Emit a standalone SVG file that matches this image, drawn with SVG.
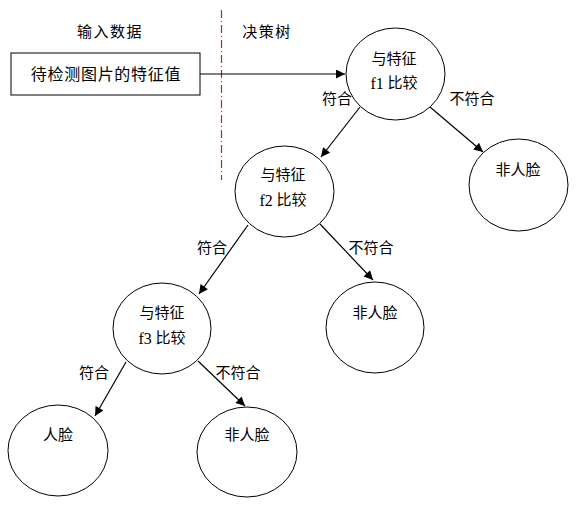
<svg xmlns="http://www.w3.org/2000/svg" width="580" height="509" viewBox="0 0 580 509">
<defs>
<style>
text{font-family:"Liberation Serif","Noto Sans CJK SC",serif;font-size:15px;fill:#000;text-anchor:middle;dominant-baseline:central}
.n ellipse{fill:#fff;stroke:#000;stroke-width:1}
.c line{stroke:#000;stroke-width:1.2;marker-end:url(#ah)}
</style>
<marker id="ah" viewBox="0 0 10 10" refX="10" refY="5" markerWidth="10" markerHeight="9" markerUnits="userSpaceOnUse" orient="auto">
<path d="M0,0 L10,5 L0,10 z" fill="#000"/>
</marker>
</defs>
<rect width="580" height="509" fill="#fff"/>
<line x1="221.5" y1="10" x2="221.5" y2="180" stroke="#b02840" stroke-width="1.2" stroke-dasharray="8 3 1 3"/>
<text x="110" y="32" letter-spacing="1.5">输入数据</text>
<text x="267" y="32" letter-spacing="1.5">决策树</text>
<g id="input">
<rect x="11" y="53" width="189" height="42" fill="#fff" stroke="#000" stroke-width="1"/>
<text x="106" y="74" style="font-size:16px" letter-spacing="0.7">待检测图片的特征值</text>
</g>
<g id="f1" class="n">
<ellipse cx="395.5" cy="74" rx="49.5" ry="46"/>
<text x="394" y="59">与特征</text>
<text x="394" y="83"><tspan style="font-size:16px">f1</tspan> 比较</text>
</g>
<g id="nf1" class="n">
<ellipse cx="518.5" cy="185" rx="49.5" ry="46"/>
<text x="518" y="170">非人脸</text>
</g>
<g id="f2" class="n">
<ellipse cx="284.5" cy="191.5" rx="49.5" ry="45.5"/>
<text x="283" y="175">与特征</text>
<text x="283" y="200"><tspan style="font-size:16px">f2</tspan> 比较</text>
</g>
<g id="nf2" class="n">
<ellipse cx="375" cy="327.5" rx="49" ry="45.5"/>
<text x="375" y="313">非人脸</text>
</g>
<g id="f3" class="n">
<ellipse cx="162" cy="328.5" rx="49" ry="45.5"/>
<text x="162" y="313">与特征</text>
<text x="162" y="338"><tspan style="font-size:16px">f3</tspan> 比较</text>
</g>
<g id="face" class="n">
<ellipse cx="58" cy="450.5" rx="50" ry="45.5"/>
<text x="58" y="435">人脸</text>
</g>
<g id="nf3" class="n">
<ellipse cx="247" cy="452" rx="50" ry="45"/>
<text x="247" y="435">非人脸</text>
</g>
<g id="connectors" class="c">
<line x1="200" y1="74" x2="345" y2="74"/>
<line x1="360" y1="107" x2="321" y2="157"/>
<line x1="430" y1="107" x2="483" y2="152"/>
<line x1="248" y1="225" x2="199" y2="294"/>
<line x1="320" y1="224" x2="373" y2="280"/>
<line x1="126" y1="362" x2="95" y2="416"/>
<line x1="198" y1="361" x2="245" y2="406"/>
</g>
<g id="labels">
<text x="337" y="99">符合</text>
<text x="472" y="99">不符合</text>
<text x="212" y="248">符合</text>
<text x="371" y="248">不符合</text>
<text x="94" y="373">符合</text>
<text x="238" y="373">不符合</text>
</g>
</svg>
